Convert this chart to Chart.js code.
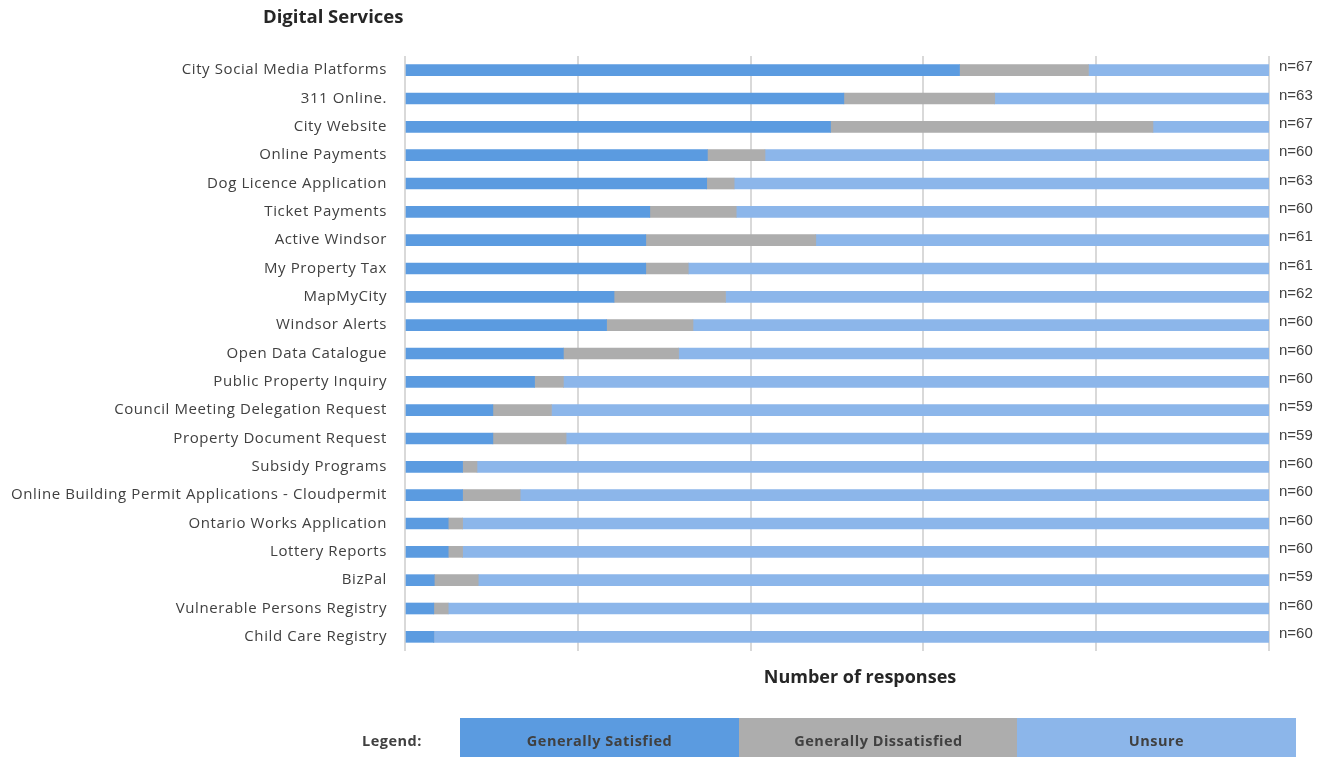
<!DOCTYPE html>
<html>
<head>
<meta charset="utf-8">
<script src="https://cdn.jsdelivr.net/npm/chart.js@4"></script>
<style>
  body { margin: 0; background: #fff; }
  #wrap { position: relative; width: 1317px; height: 757px; }
  #legend { position: absolute; left: 0; top: 718px; height: 39px; width: 1317px; font-family: "Open Sans", sans-serif; font-weight: bold; font-size: 14.5px; letter-spacing: 0.5px; color: #404040; }
  #legend .lab { position: absolute; left: 362px; top: 0; line-height: 46px; }
  #legend .box { position: absolute; top: 0; height: 39px; width: 279px; text-align: center; line-height: 46px; }
</style>
</head>
<body>
<div id="wrap">
  <canvas id="digital_services"></canvas>
  <div id="legend">
    <span class="lab">Legend:</span>
    <div class="box" style="left:460px;background:#5B9BE0">Generally Satisfied</div>
    <div class="box" style="left:739px;background:#ADADAD">Generally Dissatisfied</div>
    <div class="box" style="left:1017px;background:#8CB6EA">Unsure</div>
  </div>
</div>
<script>
var services = ["City Social Media Platforms", "311 Online.", "City Website", "Online Payments",
    "Dog Licence Application", "Ticket Payments", "Active Windsor", "My Property Tax", "MapMyCity",
    "Windsor Alerts", "Open Data Catalogue", "Public Property Inquiry",
    "Council Meeting Delegation Request", "Property Document Request", "Subsidy Programs",
    "Online Building Permit Applications - Cloudpermit", "Ontario Works Application",
    "Lottery Reports", "BizPal", "Vulnerable Persons Registry", "Child Care Registry"];
// response counts
var satisfied    = [43, 32, 33, 21, 22, 17, 17, 17, 15, 14, 11, 9, 6, 6, 4, 4, 3, 3, 2, 2, 2];
var dissatisfied = [10, 11, 25, 4, 2, 6, 12, 3, 8, 6, 8, 2, 4, 5, 1, 4, 1, 1, 3, 1, 0];
var unsure       = [14, 20, 9, 35, 39, 37, 32, 41, 39, 40, 41, 49, 49, 48, 55, 52, 56, 56, 54, 57, 58];
var totals       = [67, 63, 67, 60, 63, 60, 61, 61, 62, 60, 60, 60, 59, 59, 60, 60, 60, 60, 59, 60, 60];

function pct(arr){
    return arr.map(function(v, i){ return v / totals[i] * 100; });
}

var ctx = document.getElementById("digital_services");
ctx.width = 1317; ctx.height = 757;

var extras = {
    id: "extras",
    beforeDraw: function(chart){
        chart.ctx.letterSpacing = "0.6px";
    },
    afterDraw: function(chart){
        var c = chart.ctx, area = chart.chartArea, y = chart.scales.y;
        c.save();
        c.letterSpacing = "0px";
        c.fillStyle = "#262626";
        c.font = "bold 18.5px 'Open Sans'";
        c.textBaseline = "middle";
        c.textAlign = "left";
        c.fillText("Digital Services", 263, 18);
        c.font = "bold 18px 'Open Sans'";
        c.textAlign = "center";
        c.fillText("Number of responses", 860, 678);
        c.fillStyle = "#404040";
        c.font = "15px 'Liberation Sans'";
        c.textAlign = "left";
        totals.forEach(function(n, i){
            c.fillText("n=" + n, area.right + 10, y.getPixelForValue(i) - 3);
        });
        c.restore();
    }
};

new Chart(ctx, {
    type: "bar",
    data: {
        labels: services,
        datasets: [
            { label: "Generally Satisfied", data: pct(satisfied), backgroundColor: "#5B9BE0" },
            { label: "Generally Dissatisfied", data: pct(dissatisfied), backgroundColor: "#ADADAD" },
            { label: "Unsure", data: pct(unsure), backgroundColor: "#8CB6EA" }
        ]
    },
    options: {
        indexAxis: "y",
        responsive: false,
        animation: false,
        barThickness: 11,
        layout: { padding: { top: 56, bottom: 106, right: 48, left: 0 } },
        plugins: { legend: { display: false }, tooltip: { enabled: false } },
        scales: {
            x: {
                stacked: true, min: 0, max: 100,
                ticks: { display: false, stepSize: 20 },
                grid: { color: "#D9D9D9", lineWidth: 2, drawTicks: false },
                border: { display: false },
                afterFit: function(s){ s.height = 0; }
            },
            y: {
                stacked: true,
                grid: { display: false },
                border: { display: false },
                ticks: { color: "#404040", font: { family: "Open Sans", size: 15 }, padding: 10, autoSkip: false },
                afterFit: function(s){ s.width = 405; }
            }
        }
    },
    plugins: [extras]
});
</script>
</body>
</html>
